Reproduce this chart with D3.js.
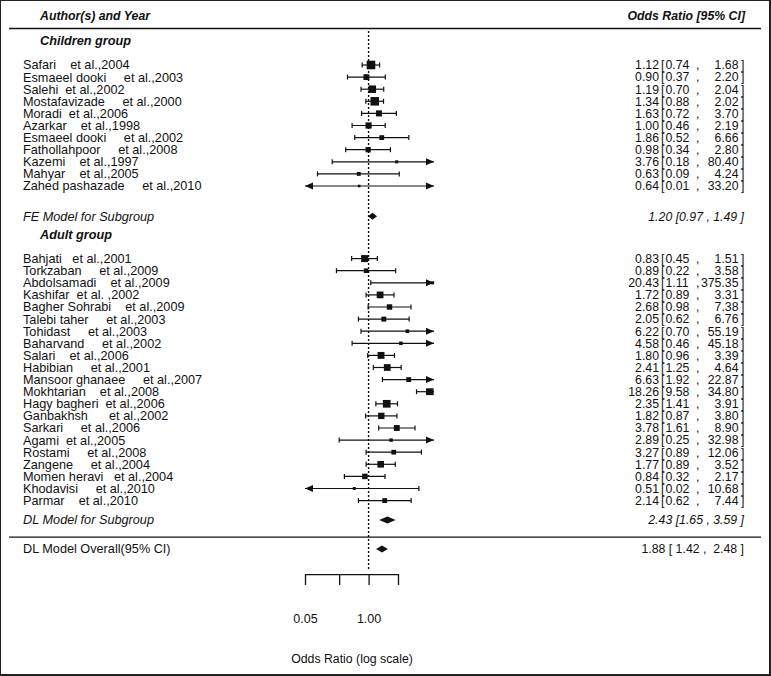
<!DOCTYPE html>
<html>
<head>
<meta charset="utf-8">
<script src="https://cdn.jsdelivr.net/npm/d3@7"></script>
<style>
  html, body { margin: 0; padding: 0; background: #fff; }
  svg { display: block; }
  text { font-family: "Liberation Sans", Arial, sans-serif; fill: #111; white-space: pre; }
</style>
</head>
<body>
<script>
// ---------------- data ----------------
const childrenStudies = [
  "Safari    et al.,2004",
  "Esmaeel dooki     et al.,2003",
  "Salehi  et al.,2002",
  "Mostafavizade     et al.,2000",
  "Moradi  et al.,2006",
  "Azarkar    et al.,1998",
  "Esmaeel dooki     et al.,2002",
  "Fathollahpoor     et al.,2008",
  "Kazemi    et al.,1997",
  "Mahyar    et al.,2005",
  "Zahed pashazade     et al.,2010"
];
const childrenOR    = [1.12, 0.90, 1.19, 1.34, 1.63, 1.00, 1.86, 0.98, 3.76, 0.63, 0.64];
const childrenLower = [0.74, 0.37, 0.70, 0.88, 0.72, 0.46, 0.52, 0.34, 0.18, 0.09, 0.01];
const childrenUpper = [1.68, 2.20, 2.04, 2.02, 3.70, 2.19, 6.66, 2.80, 80.40, 4.24, 33.20];

const adultStudies = [
  "Bahjati   et al.,2001",
  "Torkzaban     et al.,2009",
  "Abdolsamadi    et al.,2009",
  "Kashifar  et al. ,2002",
  "Bagher Sohrabi    et al.,2009",
  "Talebi taher     et al.,2003",
  "Tohidast     et al.,2003",
  "Baharvand     et al.,2002",
  "Salari    et al.,2006",
  "Habibian     et al.,2001",
  "Mansoor ghanaee     et al.,2007",
  "Mokhtarian    et al.,2008",
  "Hagy bagheri  et al.,2006",
  "Ganbakhsh      et al.,2002",
  "Sarkari     et al.,2006",
  "Agami  et al.,2005",
  "Rostami     et al.,2008",
  "Zangene     et al.,2004",
  "Momen heravi   et al.,2004",
  "Khodavisi     et al.,2010",
  "Parmar    et al.,2010"
];
const adultOR    = [0.83, 0.89, 20.43, 1.72, 2.68, 2.05, 6.22, 4.58, 1.80, 2.41, 6.63, 18.26, 2.35, 1.82, 3.78, 2.89, 3.27, 1.77, 0.84, 0.51, 2.14];
const adultLower = [0.45, 0.22, 1.11, 0.89, 0.98, 0.62, 0.70, 0.46, 0.96, 1.25, 1.92, 9.58, 1.41, 0.87, 1.61, 0.25, 0.89, 0.89, 0.32, 0.02, 0.62];
const adultUpper = [1.51, 3.58, 375.35, 3.31, 7.38, 6.76, 55.19, 45.18, 3.39, 4.64, 22.87, 34.80, 3.91, 3.80, 8.90, 32.98, 12.06, 3.52, 2.17, 10.68, 7.44];

const summaryLabels = ["FE Model for Subgroup", "DL Model for Subgroup", "DL Model Overall(95% CI)"];
const summaryOR     = [1.20, 2.43, 1.88];
const summaryLower  = [0.97, 1.65, 1.42];
const summaryUpper  = [1.49, 3.59, 2.48];
const summaryText   = ["1.20 [0.97 , 1.49 ]", "2.43 [1.65 , 3.59 ]", "1.88 [ 1.42 ,  2.48 ]"];

const groupLabels = ["Children group", "Adult group"];
const headerLabels = ["Author(s) and Year", "Odds Ratio [95% CI]"];
const tickValues = [0.05, 0.25, 1, 4];
const tickLabels = ["0.05", "", "1.00", ""];
const axisTitle = "Odds Ratio (log scale)";
const plotLimits = [0.05, 21.8];

// ---------------- layout ----------------
const W = 771, H = 676;
const svg = d3.select("body").append("svg").attr("width", W).attr("height", H);

// frame
svg.append("rect").attr("x", 0.5).attr("y", 0.5).attr("width", W - 1.5).attr("height", H - 1.5)
  .attr("fill", "none").attr("stroke", "#222").attr("stroke-width", 1);
svg.append("line").attr("x1", W - 1).attr("x2", W - 1).attr("y1", 0).attr("y2", H).attr("stroke", "#222").attr("stroke-width", 2);
svg.append("line").attr("x1", 0).attr("x2", W).attr("y1", H - 1).attr("y2", H - 1).attr("stroke", "#222").attr("stroke-width", 2);

// row scale (row index -> pixel)
const y = d3.scaleLinear().domain([0, 40]).range([65, 549]);
const x = d3.scaleLog().domain([0.05, 4]).range([305, 398]);

const rowsChildren = childrenStudies.map((d, i) => i);
const rowsAdult = adultStudies.map((d, i) => 16 + i);
const summaryRows = [12.5, 37.6, 40];
const groupRows = [-2, 14];

const studies = [];
childrenStudies.forEach((s, i) => studies.push({label: s, or: childrenOR[i], lo: childrenLower[i], hi: childrenUpper[i], row: rowsChildren[i]}));
adultStudies.forEach((s, i) => studies.push({label: s, or: adultOR[i], lo: adultLower[i], hi: adultUpper[i], row: rowsAdult[i]}));

const fs = 12.3;
const fsLab = 12.7;

// header
svg.append("text").attr("x", 40).attr("y", y(-4.1)).attr("dy", "0.35em")
  .attr("font-size", fs).attr("font-weight", "bold").attr("font-style", "italic").text(headerLabels[0]);
svg.append("text").attr("x", 745).attr("y", y(-4.1)).attr("dy", "0.35em").attr("text-anchor", "end")
  .attr("font-size", fs).attr("font-weight", "bold").attr("font-style", "italic").text(headerLabels[1]);
svg.append("line").attr("x1", 9).attr("x2", 761).attr("y1", y(-3.02)).attr("y2", y(-3.02))
  .attr("stroke", "#111").attr("stroke-width", 1.6);

// group labels
groupLabels.forEach((g, i) => {
  svg.append("text").attr("x", 40).attr("y", y(groupRows[i])).attr("dy", "0.35em")
    .attr("font-size", fsLab).attr("font-weight", "bold").attr("font-style", "italic").text(g);
});

// reference line
svg.append("line").attr("x1", x(1)).attr("x2", x(1)).attr("y1", y(-2.8)).attr("y2", y(41.8))
  .attr("stroke", "#111").attr("stroke-width", 1.4).attr("stroke-dasharray", "2,2");

// separator above overall
svg.append("line").attr("x1", 9).attr("x2", 761).attr("y1", y(39.02)).attr("y2", y(39.02))
  .attr("stroke", "#111").attr("stroke-width", 1.4);

// square size from precision
const prec = studies.map(d => 1 / (Math.log(d.hi) - Math.log(d.lo)));
const sz = d3.scaleSqrt().domain([d3.min(prec), d3.max(prec)]).range([2.6, 8.6]);

const clip = v => Math.max(plotLimits[0], Math.min(plotLimits[1], v));
const g = svg.append("g");

studies.forEach((d, i) => {
  const yy = y(d.row);
  const x1 = x(clip(d.lo)), x2 = x(clip(d.hi));
  g.append("line").attr("x1", x1).attr("x2", x2).attr("y1", yy).attr("y2", yy)
    .attr("stroke", "#111").attr("stroke-width", 1.2);
  if (d.lo < plotLimits[0]) {
    g.append("path").attr("d", `M${x1},${yy}L${x1 + 8},${yy - 3.5}L${x1 + 8},${yy + 3.5}Z`).attr("fill", "#111");
  } else {
    g.append("line").attr("x1", x1).attr("x2", x1).attr("y1", yy - 2.5).attr("y2", yy + 2.5)
      .attr("stroke", "#111").attr("stroke-width", 1.2);
  }
  if (d.hi > plotLimits[1]) {
    g.append("path").attr("d", `M${x2},${yy}L${x2 - 8},${yy - 3.5}L${x2 - 8},${yy + 3.5}Z`).attr("fill", "#111");
  } else {
    g.append("line").attr("x1", x2).attr("x2", x2).attr("y1", yy - 2.5).attr("y2", yy + 2.5)
      .attr("stroke", "#111").attr("stroke-width", 1.2);
  }
  const s = sz(prec[i]);
  if (d.or <= plotLimits[1]) {
    g.append("rect").attr("x", x(d.or) - s / 2).attr("y", yy - s / 2).attr("width", s).attr("height", s).attr("fill", "#111");
  }
  svg.append("text").attr("x", 23).attr("y", yy).attr("dy", "0.35em").attr("font-size", fsLab).text(d.label);
  // value column: one text element, aligned pieces as tspans
  const t = svg.append("text").attr("y", yy).attr("dy", "0.35em").attr("font-size", fs);
  const estW = d.or.toFixed(2).length;
  t.append("tspan").attr("x", 659).attr("text-anchor", "end").text(d.or.toFixed(2));
  t.append("tspan").attr("x", 661).text("[");
  t.append("tspan").attr("x", 665.5).text(d.lo.toFixed(2));
  t.append("tspan").attr("x", 696).text(",");
  t.append("tspan").attr("x", 738.5).attr("text-anchor", "end").text(d.hi.toFixed(2));
  t.append("tspan").attr("x", 741).text("]");
});

// summaries
summaryLabels.forEach((lab, i) => {
  const yy = y(summaryRows[i]);
  const italic = i < 2 ? "italic" : "normal";
  svg.append("text").attr("x", 23).attr("y", yy).attr("dy", "0.35em").attr("font-size", fsLab)
    .attr("font-style", italic).text(lab);
  svg.append("text").attr("x", 744).attr("y", yy).attr("dy", "0.35em").attr("font-size", fs)
    .attr("text-anchor", "end").attr("font-style", italic).text(summaryText[i]);
  const h = 3.5;
  g.append("path")
    .attr("d", `M${x(summaryLower[i])},${yy}L${x(summaryOR[i])},${yy - h}L${x(summaryUpper[i])},${yy}L${x(summaryOR[i])},${yy + h}Z`)
    .attr("fill", "#111");
});

// axis
const axis = d3.axisBottom(x).tickValues(tickValues).tickSizeInner(11).tickSizeOuter(0).tickPadding(29)
  .tickFormat((d, i) => tickLabels[i]);
const ax = svg.append("g").attr("transform", `translate(0,${y(42.07)})`).call(axis);
ax.selectAll("path, line").attr("stroke", "#111").attr("stroke-width", 1.3);
ax.selectAll("text").attr("font-size", 12.5).attr("font-family", "Liberation Sans, Arial, sans-serif").attr("fill", "#111");

svg.append("text").attr("x", 352).attr("y", 659).attr("dy", "0.35em").attr("text-anchor", "middle")
  .attr("font-size", fs).text(axisTitle);
</script>
</body>
</html>
